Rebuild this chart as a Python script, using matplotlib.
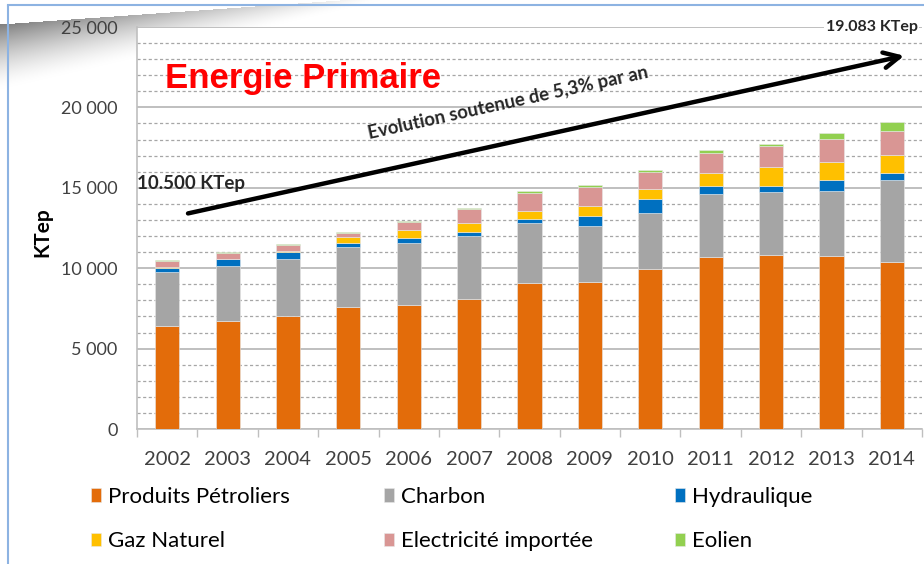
import matplotlib
matplotlib.use("Agg")
import matplotlib.pyplot as plt
import numpy as np
from matplotlib.ticker import FuncFormatter, MultipleLocator

# data (KTep)
years = ["2002", "2003", "2004", "2005", "2006", "2007", "2008",
         "2009", "2010", "2011", "2012", "2013", "2014"]
petrole = [6420, 6720, 7010, 7590, 7710, 8090, 9100, 9160, 9930, 10700, 10800, 10740, 10390]
charbon = [3320, 3400, 3570, 3710, 3880, 3900, 3730, 3440, 3480, 3940, 3920, 4060, 5100]
hydro = [250, 430, 450, 250, 270, 250, 210, 620, 890, 500, 410, 680, 420]
gaz = [60, 40, 60, 370, 500, 540, 540, 640, 640, 810, 1190, 1140, 1140]
electricite = [400, 340, 350, 250, 520, 890, 1100, 1160, 1020, 1200, 1280, 1430, 1510]
eolien = [60, 60, 80, 80, 60, 60, 100, 125, 160, 190, 140, 340, 520]

series = [
    ("Produits Pétroliers", petrole, "#E36C0A"),
    ("Charbon", charbon, "#A5A5A5"),
    ("Hydraulique", hydro, "#0070C0"),
    ("Gaz Naturel", gaz, "#FFC000"),
    ("Electricité importée", electricite, "#D99694"),
    ("Eolien", eolien, "#92D050"),
]

W, H = 924, 564
fig = plt.figure(figsize=(W / 100, H / 100), dpi=100)
fig.patch.set_facecolor("white")

# --- background decoration (page frame + grey curl top-left)
bg = fig.add_axes([0, 0, 1, 1], zorder=-1)
bg.set_xlim(0, W)
bg.set_ylim(H, 0)
bg.axis("off")
xx, yy = np.meshgrid(np.arange(W), np.arange(100))
ytop = 24 - 24 * xx / 340.0
fade = 65 * np.clip(1 - xx / 400.0, 0.05, 1)
dark = np.clip(1 - (yy - ytop) / fade, 0, 1) ** 1.5 * (yy >= ytop) * np.clip(1 - xx / 380.0, 0, 1)
img = np.ones((100, W, 4))
img[..., :3] = (1 - 0.5 * dark)[..., None]
bg.imshow(img, extent=[0, W, 100, 0], aspect="auto", interpolation="bilinear")
bg.plot([8, 8], [6, H], color="#8DB3E2", lw=1.5)
bg.plot([8, W], [5, 5], color="#8DB3E2", lw=1.5, zorder=0)

# --- main plot
ax = fig.add_axes([137 / W, 1 - 429 / H, (922 - 137) / W, (429 - 27) / H])
x = np.arange(len(years))
bottom = np.zeros(len(years))
handles = {}
for label, vals, color in series:
    b = ax.bar(x, vals, width=0.4, bottom=bottom, color=color,
               edgecolor="#e8e8e8", linewidth=0.4, label=label, zorder=3)
    handles[label] = b
    bottom += np.array(vals)

ax.set_xlim(-0.5, len(years) - 0.5)
ax.set_ylim(0, 25000)
ax.yaxis.set_major_locator(MultipleLocator(5000))
ax.yaxis.set_minor_locator(MultipleLocator(1000))
ax.yaxis.set_major_formatter(FuncFormatter(lambda v, p: f"{int(v):,}".replace(",", " ")))
ax.grid(which="major", axis="y", color="#BFBFBF", lw=1.4, zorder=1)
ax.grid(which="minor", axis="y", color="#A6A6A6", lw=0.9, ls=(0, (2.5, 2)), zorder=1)

ax.set_xticks(x)
ax.set_xticklabels(years)
ax.set_xticks(np.arange(-0.5, len(years)), minor=True)
ax.tick_params(axis="x", which="major", length=0, pad=16, labelsize=14.5, labelcolor="#404040")
ax.tick_params(axis="x", which="minor", length=6, color="#BFBFBF", width=1)
ax.tick_params(axis="y", which="both", length=0, pad=14, labelsize=13, labelcolor="#404040")
for lab in ax.get_xticklabels() + ax.get_yticklabels():
    lab.set_family("Lato")

for side in ["top", "right"]:
    ax.spines[side].set_visible(False)
ax.spines["left"].set_color("#BFBFBF")
ax.spines["bottom"].set_color("#BFBFBF")
ax.spines["left"].set_linewidth(1.2)
ax.spines["bottom"].set_linewidth(1.2)

# annotations
ax.text(0.036, 0.873, "Energie Primaire", transform=ax.transAxes, color="#FF0000",
        fontsize=25, fontweight="bold", family="Liberation Sans", va="center", ha="left")
ax.annotate("", xy=(12.25, 23250), xytext=(0.3, 13370),
            arrowprops=dict(arrowstyle="->", lw=3.2, color="black", mutation_scale=28), zorder=5)
ax.text(5.65, 20300, "Evolution soutenue de 5,3% par an", rotation=12.4, rotation_mode="anchor",
        ha="center", va="center", fontsize=13.3, fontweight="bold", family="Lato", color="#262626")
ax.text(-0.5, 15240, "10.500 KTep", ha="left", va="center", fontsize=13.5,
        fontweight="bold", family="Lato", color="#262626")
ax.text(12.43, 25000, "19.083 KTep", ha="right", va="center", fontsize=11.5,
        fontweight="bold", family="Lato", color="#262626", clip_on=False,
        bbox=dict(facecolor="white", edgecolor="none", pad=1), zorder=6)

fig.text(42 / W, 1 - 232 / H, "KTep", rotation=90, ha="center", va="center",
         fontsize=15, fontweight="bold", family="Lato", color="black")

# legend: one small legend per column so each column sits where it should
columns = [("Produits Pétroliers", "Gaz Naturel"),
           ("Charbon", "Electricité importée"),
           ("Hydraulique", "Eolien")]
col_x = [91, 384, 675]
for names, cx in zip(columns, col_x):
    fig.legend([handles[k] for k in names], names, loc="upper left",
               bbox_to_anchor=(cx / W, 1 - 487 / H), borderaxespad=0, borderpad=0,
               frameon=False, handlelength=0.45, handleheight=0.55, handletextpad=0.3,
               labelspacing=1.1, prop={"family": "Lato", "size": 16},
               labelcolor="black")

fig.savefig("out.png", dpi=100, facecolor="white")
